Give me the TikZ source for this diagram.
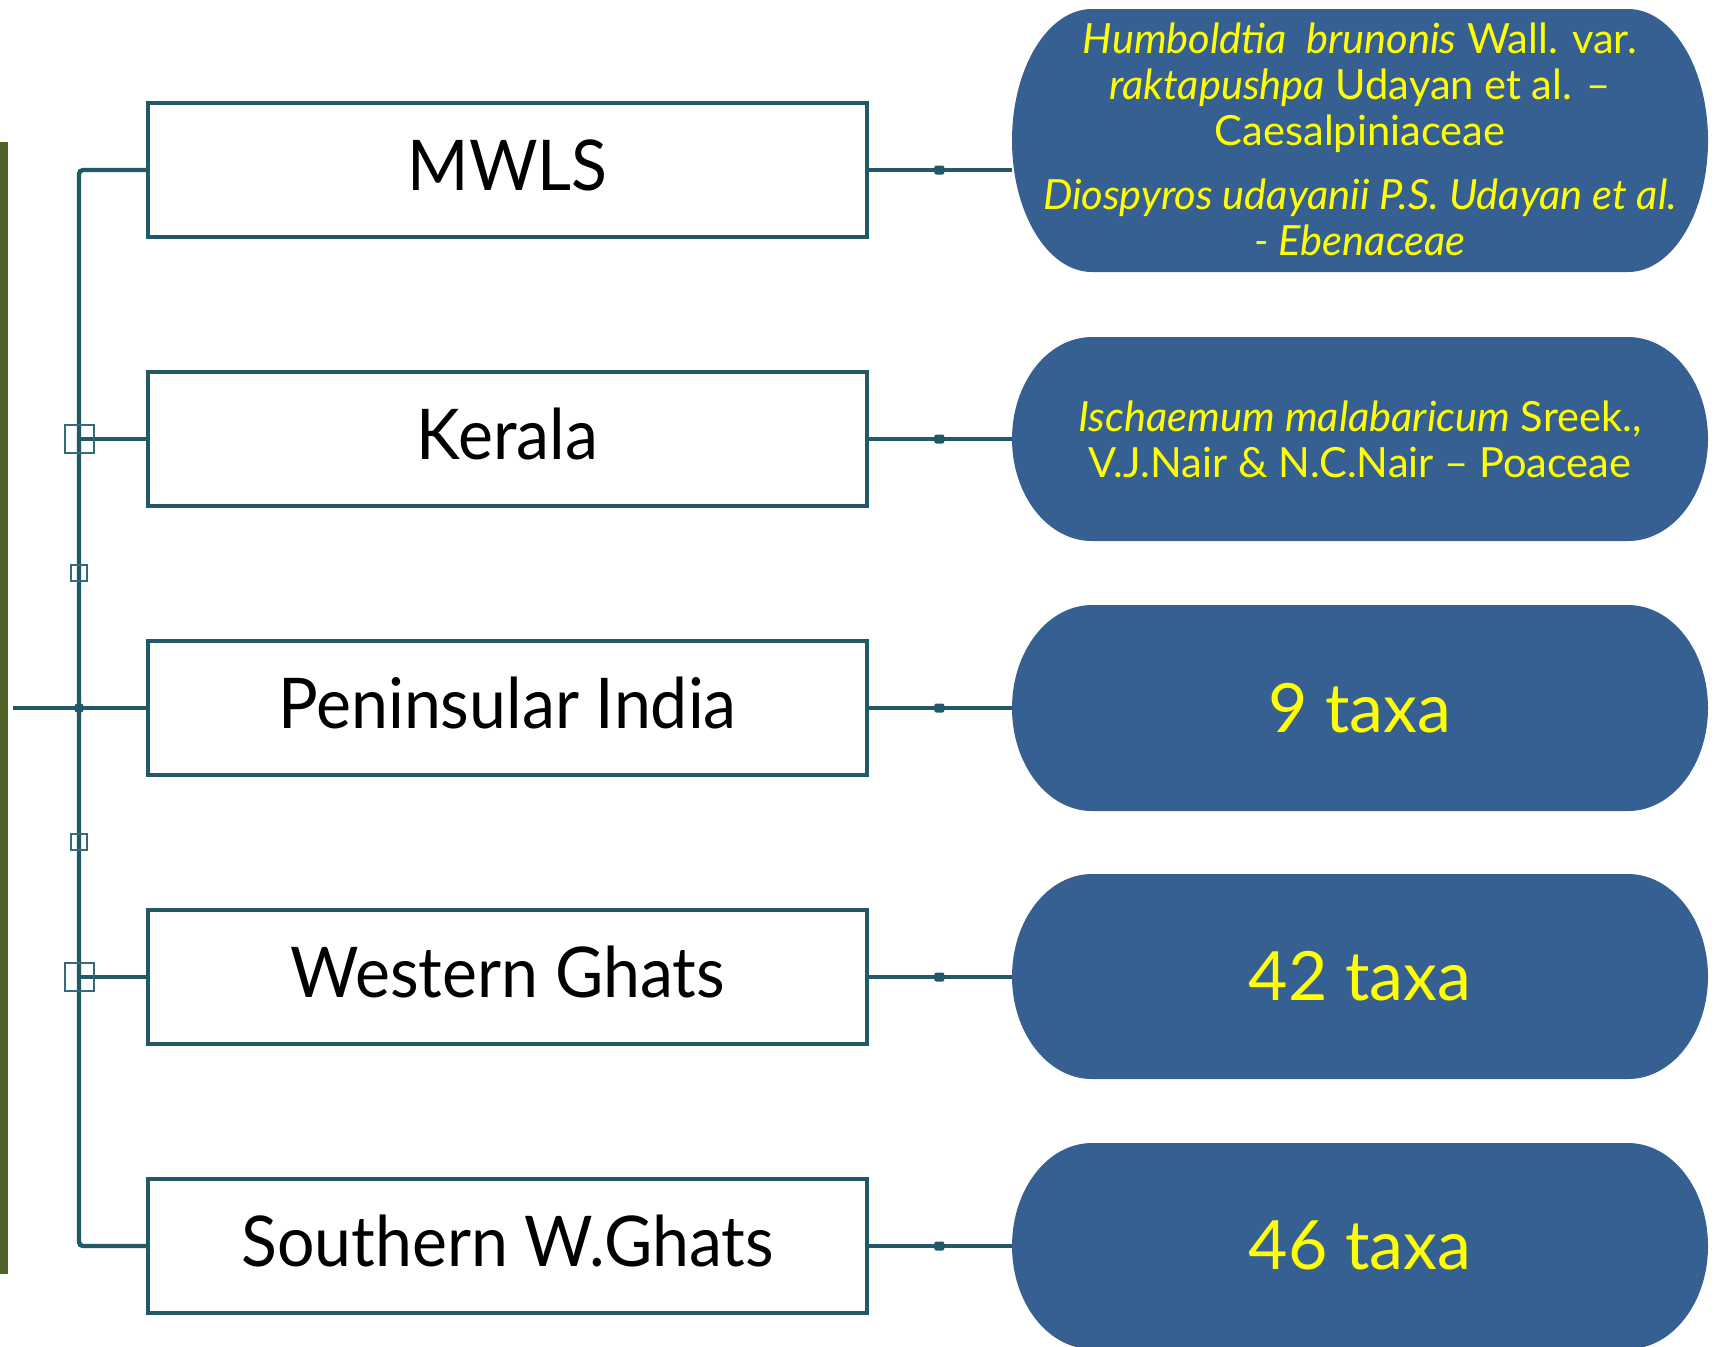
\documentclass[tikz,border=0pt]{standalone}
\usepackage{fontspec}
\setmainfont{Lato}
\newfontfamily\boxfont{Lato}[FakeStretch=0.945]
\usetikzlibrary{positioning}

\definecolor{linkcol}{RGB}{33,89,104}
\definecolor{pillcol}{RGB}{55,96,146}
\definecolor{barcol}{RGB}{79,98,40}
\definecolor{txtyellow}{RGB}{255,255,0}

% pill background: top y, bottom y
\newcommand{\pillshape}[2]{%
  \fill[pillcol] (1092,#1) -- (1628,#1)
    arc[start angle=-90,end angle=90,x radius=80,y radius={(#2-#1)/2}]
    -- (1092,#2)
    arc[start angle=90,end angle=270,x radius=80,y radius={(#2-#1)/2}] -- cycle;}

\begin{document}
\begin{tikzpicture}[x=0.5pt,y=-0.5pt,
  regbox/.style={draw=linkcol,line width=2.25pt,fill=white,minimum width=359.5pt,
    minimum height=67pt,inner sep=0pt,outer sep=0pt,text height=25pt,text depth=5pt,
    font=\boxfont\fontsize{35}{40}\selectfont},
  pilltext/.style={text=txtyellow,align=center,minimum width=348pt,inner sep=0pt,
    font=\fontsize{20.8}{23}\selectfont},
  taxatext/.style={pilltext,font=\fontsize{34}{40}\selectfont},
  link/.style={draw=linkcol,line width=2.2pt},
  midmark/.style={fill=linkcol,minimum width=5pt,minimum height=4.5pt,inner sep=0pt,rounded corners=1pt},
  jmark/.style={draw=linkcol!90,line width=1pt,inner sep=0pt},
  node distance=67.5pt]
\useasboundingbox (0,0) rectangle (1722,1346);

\fill[barcol] (0,142) rectangle (8,1274);

% region boxes
\node[regbox] (mwls) at (507.5,170) {MWLS};
\node[regbox,below=of mwls] (kerala) {Kerala};
\node[regbox,below=of kerala] (penin) {Peninsular India};
\node[regbox,below=of penin] (wghats) {Western Ghats};
\node[regbox,below=of wghats] (swghats) {Southern W.Ghats};

% pills
\pillshape{9}{272}
\node[pilltext,minimum height=131pt] (p1) at (1360,139) {\textit{Humboldtia\ \ brunonis} Wall. var.\\
  \textit{raktapushpa} Udayan et al. –\\ Caesalpiniaceae\\[9pt]
  \textit{Diospyros udayanii P.S. Udayan et al.}\\ \textit{- Ebenaceae}};
\pillshape{337}{541}
\node[pilltext,minimum height=102pt] (p2) at (1360,439) {\textit{Ischaemum malabaricum} Sreek.,\\
  V.J.Nair \& N.C.Nair – Poaceae};
\pillshape{605}{811}
\node[taxatext,minimum height=103pt] (p3) at (1360,708) {9 taxa};
\pillshape{874}{1079}
\node[taxatext,minimum height=103pt] (p4) at (1360,976) {42 taxa};
\pillshape{1143}{1349}
\node[taxatext,minimum height=103pt] (p5) at (1360,1245) {46 taxa};

\foreach \a/\b in {mwls/p1,kerala/p2,penin/p3,wghats/p4,swghats/p5}
  \draw[link] (\a.east) -- node[midmark]{} (\b.west |- \a.east);

% tree on the left
\coordinate (hub) at (79,708);
\coordinate (root) at (13,708);
\draw[link,rounded corners=2pt] (mwls.west) -| (hub) |- (swghats.west);
\foreach \n in {kerala,penin,wghats}
  \draw[link] (\n.west -| hub) -- (\n.west);
\draw[link] (root) -- (hub);
\fill[linkcol] (hub) circle (2.6pt);

\node[jmark,minimum width=14.5pt,minimum height=14pt] (jk) at (kerala.west -| hub) {};
\node[jmark,minimum width=14.5pt,minimum height=14pt] (jw) at (wghats.west -| hub) {};
\node[jmark,minimum size=8pt] (ja) at (79,573) {};
\node[jmark,minimum size=8pt] (jb) at (79,842) {};
\end{tikzpicture}
\end{document}
